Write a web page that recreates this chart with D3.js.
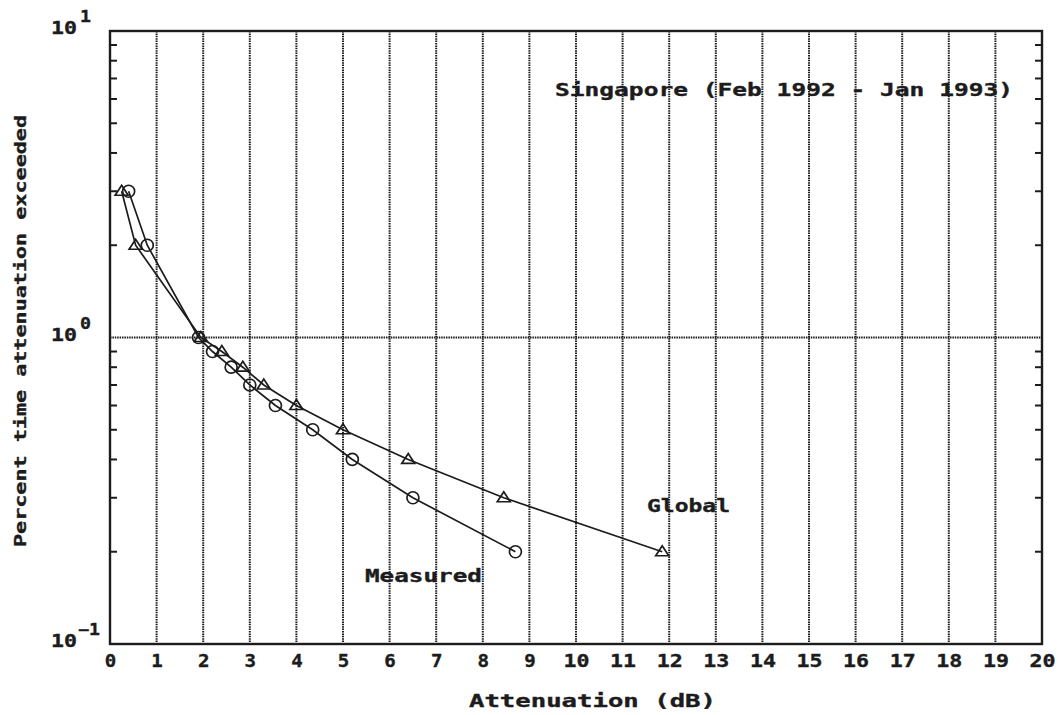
<!DOCTYPE html>
<html>
<head>
<meta charset="utf-8">
<script src="https://cdn.jsdelivr.net/npm/d3@7"></script>
<style>
  html, body { margin: 0; padding: 0; background: #ffffff; }
  svg { display: block; }
  text { font-family: "DejaVu Sans Mono", "Liberation Mono", monospace; font-weight: bold; fill: #1c1c1c; stroke: #1c1c1c; stroke-width: 0.35px; }
</style>
</head>
<body>
<svg id="chart" width="1059" height="715"></svg>
<script>
// ---- data ----
const measuredX = [0.4, 0.8, 1.9, 2.2, 2.6, 3.0, 3.55, 4.35, 5.2, 6.5, 8.7];
const measuredY = [3.0, 2.0, 1.0, 0.9, 0.8, 0.7, 0.6, 0.5, 0.4, 0.3, 0.2];
const globalX   = [0.25, 0.55, 1.95, 2.4, 2.85, 3.3, 4.0, 5.0, 6.4, 8.45, 11.85];
const globalY   = [3.0, 2.0, 1.0, 0.9, 0.8, 0.7, 0.6, 0.5, 0.4, 0.3, 0.2];
const xTicks = d3.range(0, 21);               // 0..20 dB
const yDecades = [0.1, 1, 10];
const yDecadeExp = ["−1", "0", "1"];
const minorTicks = [2,3,4,5,6,7,8,9,20,30,40,50,60,70,80,90].map(v => v / 10);
const titleText = "Singapore (Feb 1992 - Jan 1993)";
const xTitle = "Attenuation (dB)";
const yTitle = "Percent time attenuation exceeded";

// ---- layout ----
const svg = d3.select("#chart");
const L = 110, R = 1042, T = 31, B = 644;
const ink = "#1c1c1c";

const x = d3.scaleLinear().domain([0, 20]).range([L, R]);
const y = d3.scaleLog().domain([0.1, 10]).range([B, T]);

function fit(sel, advance) {
  sel.each(function() {
    const t = d3.select(this);
    const n = t.text().length;
    t.attr("textLength", n * advance - 3).attr("lengthAdjust", "spacingAndGlyphs");
  });
}

// vertical dotted grid
svg.append("g").selectAll("line").data(xTicks.filter(d => d > 0 && d < 20)).join("line")
  .attr("x1", d => x(d)).attr("x2", d => x(d)).attr("y1", T).attr("y2", B)
  .attr("stroke", ink).attr("stroke-width", 2).attr("stroke-dasharray", "1.5,0.9");

// horizontal dotted grid at 10^0
svg.append("line").attr("x1", L).attr("x2", R).attr("y1", y(1)).attr("y2", y(1))
  .attr("stroke", ink).attr("stroke-width", 2).attr("stroke-dasharray", "1.5,0.9");

// frame
svg.append("rect").attr("x", L).attr("y", T).attr("width", R - L).attr("height", B - T)
  .attr("fill", "none").attr("stroke", ink).attr("stroke-width", 2.4);

// minor ticks left and right (inward)
const mt = svg.append("g");
mt.selectAll("line.l").data(minorTicks).join("line").attr("class", "l")
  .attr("x1", L).attr("x2", L + 7).attr("y1", d => y(d)).attr("y2", d => y(d))
  .attr("stroke", ink).attr("stroke-width", 2);
mt.selectAll("line.r").data(minorTicks).join("line").attr("class", "r")
  .attr("x1", R).attr("x2", R - 7).attr("y1", d => y(d)).attr("y2", d => y(d))
  .attr("stroke", ink).attr("stroke-width", 2);

// x axis tick labels via d3 axis
const xAxis = d3.axisBottom(x).tickValues(xTicks).tickSize(0).tickPadding(0).tickFormat(d3.format("d"));
const xg = svg.append("g").attr("transform", `translate(0,${B})`).call(xAxis);
xg.select(".domain").remove();
xg.selectAll("text").attr("y", 23).attr("dy", null)
  .style("font-size", "17px").style("font-family", "DejaVu Sans Mono").style("font-weight", "bold")
  .attr("fill", ink).attr("stroke", ink).attr("stroke-width", 0.35)
  .call(fit, 14.5);

// y decade labels 10^n (one text element each, exponent as a raised tspan)
const yl = svg.append("g");
yDecades.forEach((v, i) => {
  const yy = y(v);
  const exp = yDecadeExp[i];
  const t = yl.append("text").attr("y", yy + 3).style("font-size", "17px");
  t.append("tspan").attr("x", 51).text("10")
    .attr("textLength", 26).attr("lengthAdjust", "spacingAndGlyphs");
  t.append("tspan").attr("x", exp.length > 1 ? 78 : 80).attr("y", yy - 9)
    .style("font-size", "15px").text(exp)
    .attr("textLength", exp.length > 1 ? 22 : 11).attr("lengthAdjust", "spacingAndGlyphs");
});

// series lines and markers
const measured = measuredX.map((d, i) => [d, measuredY[i]]);
const global = globalX.map((d, i) => [d, globalY[i]]);
const line = d3.line().x(d => x(d[0])).y(d => y(d[1]));

svg.append("path").datum(global).attr("d", line)
  .attr("fill", "none").attr("stroke", ink).attr("stroke-width", 1.7);
svg.append("path").datum(measured).attr("d", line)
  .attr("fill", "none").attr("stroke", ink).attr("stroke-width", 1.7);

svg.append("g").selectAll("circle").data(measured).join("circle")
  .attr("cx", d => x(d[0])).attr("cy", d => y(d[1])).attr("r", 6)
  .attr("fill", "none").attr("stroke", ink).attr("stroke-width", 1.7);

svg.append("g").selectAll("path").data(global).join("path")
  .attr("transform", d => `translate(${x(d[0])},${y(d[1])})`)
  .attr("d", "M-6.5,4 L6.5,4 L0,-6 Z")
  .attr("fill", "none").attr("stroke", ink).attr("stroke-width", 1.7);

// annotations
svg.append("text").attr("x", 555).attr("y", 96).style("font-size", "17px")
  .text(titleText).attr("textLength", 458).attr("lengthAdjust", "spacingAndGlyphs");
svg.append("text").attr("x", 647).attr("y", 512).style("font-size", "17px")
  .text("Global").attr("textLength", 83).attr("lengthAdjust", "spacingAndGlyphs");
svg.append("text").attr("x", 365).attr("y", 582).style("font-size", "17px")
  .text("Measured").attr("textLength", 117).attr("lengthAdjust", "spacingAndGlyphs");

// axis titles
svg.append("text").attr("x", 469).attr("y", 707).style("font-size", "17px")
  .text(xTitle).attr("textLength", 247).attr("lengthAdjust", "spacingAndGlyphs");
svg.append("text").attr("transform", "translate(26,547) rotate(-90)").style("font-size", "16px")
  .text(yTitle).attr("textLength", 432).attr("lengthAdjust", "spacingAndGlyphs");
</script>
</body>
</html>
